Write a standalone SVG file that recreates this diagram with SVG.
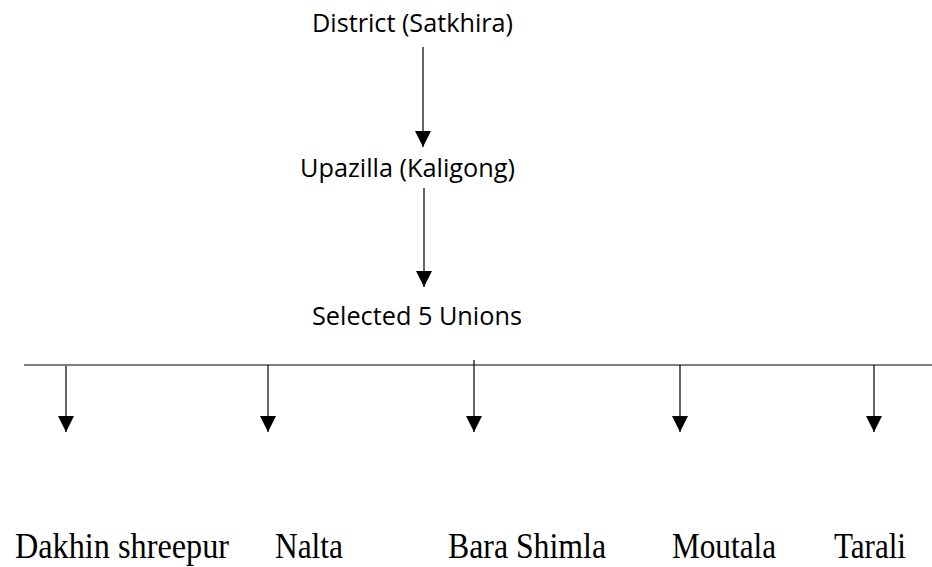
<svg xmlns="http://www.w3.org/2000/svg" width="932" height="567" viewBox="0 0 932 567">
  <style>
    .sans { font-family: "Open Sans", "Liberation Sans", sans-serif; font-size: 25px; fill: #000; }
    .serif { font-family: "Liberation Serif", "Times New Roman", serif; font-size: 35px; fill: #000; }
    .conn { stroke: #000; stroke-width: 1.2; fill: none; }
  </style>
  <defs>
    <marker id="arrow" viewBox="0 0 16 16" refX="16" refY="8" markerWidth="16" markerHeight="16" markerUnits="userSpaceOnUse" orient="auto">
      <path d="M0,0 L16,8 L0,16 z" fill="#000"/>
    </marker>
  </defs>
  <rect width="932" height="567" fill="#fff"/>

  <g id="connectors">
    <line class="conn" x1="423" y1="47" x2="423" y2="147" marker-end="url(#arrow)"/>
    <line class="conn" x1="424" y1="188" x2="424" y2="287" marker-end="url(#arrow)"/>
    <line class="conn" x1="24" y1="365" x2="932" y2="365"/>
    <line class="conn" x1="66" y1="366" x2="66" y2="432" marker-end="url(#arrow)"/>
    <line class="conn" x1="268" y1="365" x2="268" y2="432" marker-end="url(#arrow)"/>
    <line class="conn" x1="474" y1="360" x2="474" y2="432" marker-end="url(#arrow)"/>
    <line class="conn" x1="680" y1="365" x2="680" y2="432" marker-end="url(#arrow)"/>
    <line class="conn" x1="874" y1="365" x2="874" y2="432" marker-end="url(#arrow)"/>
  </g>

  <g id="district">
    <text class="sans" x="312" y="32" textLength="201" lengthAdjust="spacingAndGlyphs">District (Satkhira)</text>
  </g>
  <g id="upazilla">
    <text class="sans" x="300" y="177" textLength="215" lengthAdjust="spacingAndGlyphs">Upazilla (Kaligong)</text>
  </g>
  <g id="unions">
    <text class="sans" x="312" y="325" textLength="210" lengthAdjust="spacingAndGlyphs">Selected 5 Unions</text>
  </g>

  <g id="dakhin-shreepur">
    <text class="serif" x="15" y="558" textLength="214" lengthAdjust="spacingAndGlyphs">Dakhin shreepur</text>
  </g>
  <g id="nalta">
    <text class="serif" x="275" y="558" textLength="68" lengthAdjust="spacingAndGlyphs">Nalta</text>
  </g>
  <g id="bara-shimla">
    <text class="serif" x="448" y="558" textLength="158" lengthAdjust="spacingAndGlyphs">Bara Shimla</text>
  </g>
  <g id="moutala">
    <text class="serif" x="672" y="558" textLength="104" lengthAdjust="spacingAndGlyphs">Moutala</text>
  </g>
  <g id="tarali">
    <text class="serif" x="834" y="558" textLength="72" lengthAdjust="spacingAndGlyphs">Tarali</text>
  </g>
</svg>
